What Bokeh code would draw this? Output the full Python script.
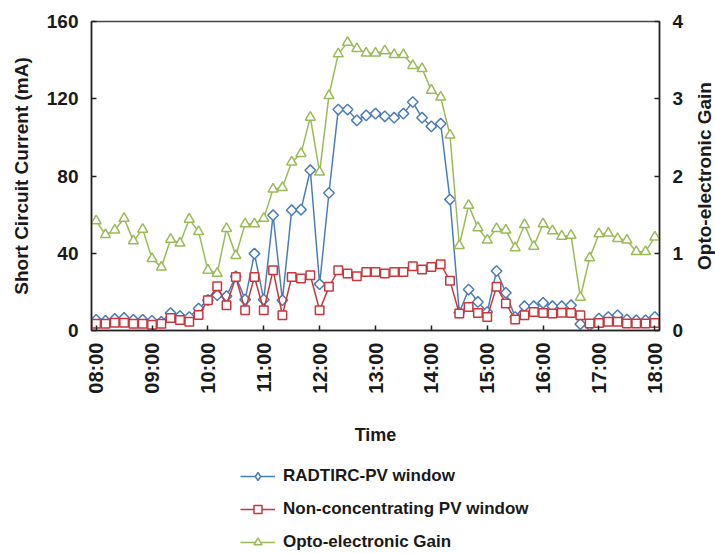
from math import pi
from bokeh.plotting import figure
from bokeh.layouts import column, row
from bokeh.models import Range1d, LinearAxis, FixedTicker, Legend, LegendItem, Title
from bokeh.embed import file_html
from bokeh.resources import INLINE

# ---- data (10-minute readings, 08:00 .. 18:00) ----
tick_hours = [8, 9, 10, 11, 12, 13, 14, 15, 16, 17, 18]
tick_labels = ["08:00", "09:00", "10:00", "11:00", "12:00", "13:00",
               "14:00", "15:00", "16:00", "17:00", "18:00"]
start_hour = 8
step_minutes = 10

radtirc = [5.5, 5, 6, 6.5, 5.5, 5.5, 5, 4.5, 9, 7.5,
           7, 11.4, 15.7, 18.3, 17.8, 28, 16, 39.8, 16, 59.7,
           15.7, 62.3, 62.6, 83, 24, 71.2, 114.4, 114.4, 108.8, 111.4,
           112.3, 110.9, 110.2, 112.3, 118.3, 110.2, 105.7, 107.1, 67.8, 9.2,
           21.2, 14.8, 9.6, 30.8, 19.5, 7, 12.6, 12.6, 14.3, 12.6,
           12.6, 13.1, 3.3, 2.7, 6.2, 7, 7.9, 5.7, 5.3, 5.3, 7]

noncon = [3.5, 3.5, 4, 4, 3.5, 3.5, 3, 3.5, 6.5, 5.5,
          4.5, 8, 15.7, 22.9, 13.1, 27.7, 10.5, 27.7, 10.5, 31.2,
          7.9, 27.7, 26.9, 28.6, 10.5, 22.6, 31.2, 29.5, 28.1, 30.3,
          30.3, 29.5, 30.3, 30.3, 33.3, 31.6, 32.9, 34.3, 25.7, 8.8,
          12.2, 9.1, 7, 22.6, 14, 5.7, 7.9, 9.6, 9.1, 8.8,
          9.2, 9.1, 7.9, 3.6, 3.9, 4.5, 4.5, 3.6, 3.6, 3.6, 3.9]

gain = [1.42, 1.24, 1.30, 1.45, 1.16, 1.31, 0.93, 0.82, 1.18, 1.13,
        1.44, 1.28, 0.78, 0.74, 1.32, 0.97, 1.38, 1.38, 1.45, 1.83,
        1.85, 2.18, 2.29, 2.76, 2.05, 3.04, 3.58, 3.73, 3.65, 3.59,
        3.59, 3.62, 3.57, 3.57, 3.43, 3.39, 3.11, 3.02, 2.53, 1.10,
        1.62, 1.33, 1.17, 1.32, 1.30, 1.07, 1.37, 1.09, 1.38, 1.29,
        1.22, 1.23, 0.43, 0.94, 1.25, 1.26, 1.19, 1.17, 1.02, 1.02, 1.21]

series_names = ["RADTIRC-PV window", "Non-concentrating PV window",
                "Opto-electronic Gain"]
right_title = "Opto-electronic Gain"

left_ticks = [0, 40, 80, 120, 160]
right_ticks = [0, 1, 2, 3, 4]

x = [start_hour + i * step_minutes / 60 for i in range(len(radtirc))]
half = step_minutes / 120

BLUE = "#4A7EBB"
RED = "#C8373C"
GREEN = "#9BBB59"
TXT = "#1a1a1a"
FONT = "Liberation Sans"

p = figure(width=687, height=460, output_backend="svg", toolbar_location=None,
           x_range=Range1d(start_hour - half, tick_hours[-1] + half),
           y_range=Range1d(left_ticks[0], left_ticks[-1]),
           min_border_left=91, min_border_right=28,
           min_border_top=21, min_border_bottom=130)
p.extra_y_ranges = {"gain": Range1d(right_ticks[0], right_ticks[-1])}
p.xgrid.visible = False
p.ygrid.visible = False
p.outline_line_color = "#444444"
p.outline_line_width = 1.5
p.background_fill_color = "white"
p.border_fill_color = "white"

right_axis = LinearAxis(y_range_name="gain")
p.add_layout(right_axis, "right")

p.xaxis.ticker = FixedTicker(ticks=tick_hours)
p.xaxis.major_label_overrides = {h: l for h, l in zip(tick_hours, tick_labels)}
p.xaxis.major_label_orientation = pi / 2
p.xaxis.axis_label = "Time"
p.yaxis[0].ticker = FixedTicker(ticks=left_ticks)
p.yaxis[0].axis_label = "Short Circuit Current (mA)"
right_axis.ticker = FixedTicker(ticks=right_ticks)

for ax in [p.xaxis[0], p.yaxis[0], right_axis]:
    ax.major_tick_in = 5
    ax.major_tick_out = 0
    ax.minor_tick_in = 0
    ax.minor_tick_out = 0
    ax.axis_line_color = "#222222"
    ax.axis_line_width = 1.5
    ax.major_tick_line_color = "#222222"
    ax.major_tick_line_width = 1.5
    ax.major_label_text_font = FONT
    ax.major_label_text_font_style = "bold"
    ax.major_label_text_font_size = "19px"
    ax.major_label_text_color = TXT
    ax.major_label_standoff = 13
    ax.axis_label_text_font = FONT
    ax.axis_label_text_font_style = "bold"
    ax.axis_label_text_font_size = "18px"
    ax.axis_label_text_color = TXT

p.xaxis.major_label_standoff = 12
p.xaxis.major_label_text_font_size = "20px"
p.yaxis[0].axis_label_text_font_size = "19px"
p.xaxis.axis_label_standoff = 28
p.yaxis[0].axis_label_standoff = 12

line_kw = dict(line_width=1.5)
p.line(x, radtirc, line_color=BLUE, **line_kw)
p.scatter(x, radtirc, marker="square", angle=pi / 4, size=7.5,
          fill_color="white", line_color=BLUE, line_width=1.5)
p.line(x, noncon, line_color=RED, **line_kw)
p.scatter(x, noncon, marker="square", size=8.5,
          fill_color="white", line_color=RED, line_width=1.5)
p.line(x, gain, line_color=GREEN, y_range_name="gain", **line_kw)
p.scatter(x, gain, marker="triangle", size=10, y_range_name="gain",
          fill_color="white", line_color=GREEN, line_width=1.5)

# ---- narrow strip at the right carrying the secondary-axis title ----
r = figure(width=28, height=460, output_backend="svg", toolbar_location=None,
           x_axis_location=None, y_axis_location=None,
           x_range=Range1d(0, 1), y_range=Range1d(0, 1),
           min_border_left=27, min_border_right=0,
           min_border_top=21, min_border_bottom=130)
r.xgrid.visible = False
r.ygrid.visible = False
r.outline_line_color = None
r.background_fill_color = "white"
r.border_fill_color = "white"
r.add_layout(Title(text=right_title, align="center", standoff=0,
                   text_font=FONT, text_font_style="bold",
                   text_font_size="19px", text_color=TXT), "left")

# ---- legend strip underneath (same glyph styles; data kept out of its view) ----
q = figure(width=715, height=94, output_backend="svg", toolbar_location=None,
           x_axis_location=None, y_axis_location=None,
           x_range=Range1d(0, 1), y_range=Range1d(-1000, -999),
           min_border_left=91, min_border_right=56,
           min_border_top=0, min_border_bottom=0)
q.xgrid.visible = False
q.ygrid.visible = False
q.outline_line_color = None
q.background_fill_color = "white"
q.border_fill_color = "white"

styles = [
    (radtirc, BLUE, dict(marker="diamond", size=12)),
    (noncon, RED, dict(marker="square", size=8.5)),
    (gain, GREEN, dict(marker="triangle", size=10)),
]
items = []
for name, (vals, col, mk) in zip(series_names, styles):
    lr = q.line(x, vals, line_color=col, **line_kw)
    sr = q.scatter(x, vals, fill_color="white", line_color=col, line_width=1.5, **mk)
    items.append(LegendItem(label=name, renderers=[lr, sr]))

legend = Legend(items=items, location=(149, 2), orientation="vertical",
                border_line_color=None, background_fill_alpha=0,
                padding=0, margin=0, spacing=13, label_height=20,
                glyph_height=20, glyph_width=35, label_standoff=8,
                label_text_font=FONT, label_text_font_style="bold",
                label_text_font_size="17px", label_text_color=TXT)
q.add_layout(legend, "center")

layout = column(row(p, r, spacing=0), q, spacing=0)
open("out.html", "w").write(file_html(layout, INLINE))
